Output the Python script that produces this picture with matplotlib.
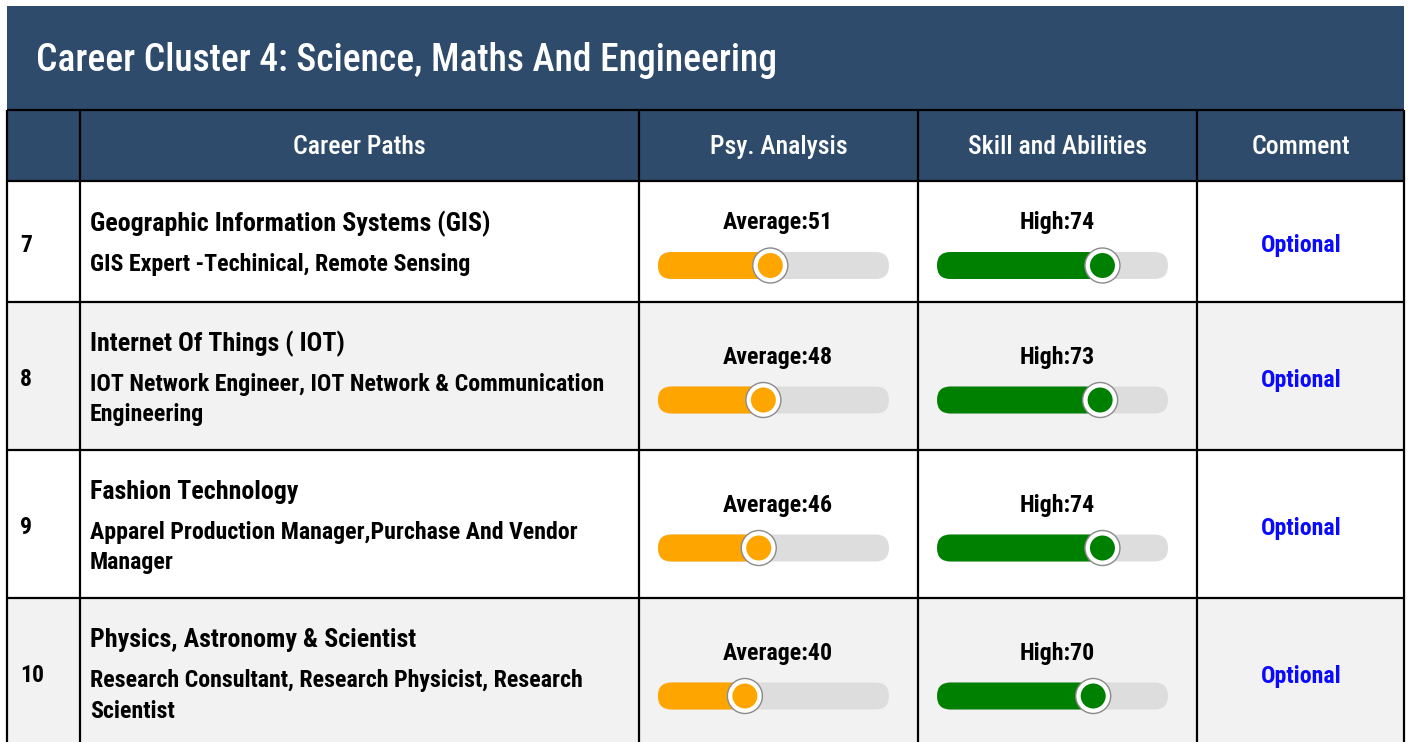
import matplotlib
matplotlib.use("Agg")
import matplotlib.pyplot as plt
from matplotlib.patches import Rectangle, FancyBboxPatch, Circle

plt.rcParams['font.family'] = ['Roboto Condensed', 'Roboto', 'DejaVu Sans']

# data
title = "Career Cluster 4: Science, Maths And Engineering"
headers = ["", "Career Paths", "Psy. Analysis", "Skill and Abilities", "Comment"]
numbers = ["7", "8", "9", "10"]
paths = ["Geographic Information Systems (GIS)",
         "Internet Of Things ( IOT)",
         "Fashion Technology",
         "Physics, Astronomy & Scientist"]
jobs = [["GIS Expert -Techinical, Remote Sensing"],
        ["IOT Network Engineer, IOT Network & Communication", "Engineering"],
        ["Apparel Production Manager,Purchase And Vendor", "Manager"],
        ["Research Consultant, Research Physicist, Research", "Scientist"]]
psy_level = ["Average", "Average", "Average", "Average"]
psy_score = [51, 48, 46, 40]
skill_level = ["High", "High", "High", "High"]
skill_score = [74, 73, 74, 70]
comments = ["Optional", "Optional", "Optional", "Optional"]

navy = "#2e4b6b"
W, H = 1409, 742
fig = plt.figure(figsize=(W / 100, H / 100), dpi=100)
ax = fig.add_axes([0, 0, 1, 1])
ax.set_xlim(0, W)
ax.set_ylim(H, 0)
ax.axis("off")

cols = [7, 80, 639, 918, 1197, 1404]
row_tops = [181, 302, 450, 598]
row_bots = [302, 450, 598, 746]

# title band + header row
ax.add_patch(Rectangle((7, 6), 1397, 175, color=navy, lw=0))
ax.text(36, 71, title, color="white", fontsize=27, fontweight="medium", va="baseline", ha="left")
for i, h in enumerate(headers):
    cx = (cols[i] + cols[i + 1]) / 2
    ax.text(cx, 154, h, color="white", fontsize=18.5, fontweight="medium", ha="center", va="baseline")

# row backgrounds
for r in range(len(numbers)):
    bg = "white" if r % 2 == 0 else "#f2f2f2"
    ax.add_patch(Rectangle((7, row_tops[r]), 1397, row_bots[r] - row_tops[r] + 20, color=bg, lw=0))

# grid lines
lw = 1.6
for y in [110, 181] + row_tops[1:]:
    ax.plot([7, 1404], [y, y], color="black", lw=lw, solid_capstyle="butt")
for x in cols:
    ax.plot([x, x], [110, H], color="black", lw=lw, solid_capstyle="butt")


def slider(x0, cy, value, color):
    w, h = 231, 27
    ax.add_patch(FancyBboxPatch((x0, cy - h / 2), w, h, boxstyle="round,pad=0,rounding_size=13.5",
                                fc="#dddddd", ec="none"))
    kx = x0 + w * value / 100 - 5.5
    ax.add_patch(FancyBboxPatch((x0, cy - h / 2), kx - x0, h, boxstyle="round,pad=0,rounding_size=13.5",
                                fc=color, ec="none"))
    ax.add_patch(Circle((kx, cy), 17.5, fc="white", ec="#8a8a8a", lw=1))
    ax.add_patch(Circle((kx, cy), 12.5, fc=color, ec="none"))


for r in range(len(numbers)):
    c = (row_tops[r] + row_bots[r]) / 2
    ax.text(20, c + 10.5, numbers[r], fontsize=17, fontweight="bold", va="baseline")
    n = len(jobs[r])
    ty = c - 10.5 - 14 * (n - 1)
    ax.text(90, ty, paths[r], fontsize=18.7, fontweight="bold", va="baseline")
    for k, line in enumerate(jobs[r]):
        ax.text(90, ty + 40 + 30 * k, line, fontsize=17.2, fontweight="bold", va="baseline")
    ax.text(778, c - 12, f"{psy_level[r]}:{psy_score[r]}", fontsize=17.2, fontweight="bold",
            ha="center", va="baseline")
    slider(658, c + 24, psy_score[r], "#ffa500")
    ax.text(1057, c - 12, f"{skill_level[r]}:{skill_score[r]}", fontsize=17.2, fontweight="bold",
            ha="center", va="baseline")
    slider(937, c + 24, skill_score[r], "#008000")
    ax.text(1301, c + 10.5, comments[r], fontsize=17.2, fontweight="bold", color="#0a0aff",
            ha="center", va="baseline")

fig.savefig("out.png", dpi=100)
